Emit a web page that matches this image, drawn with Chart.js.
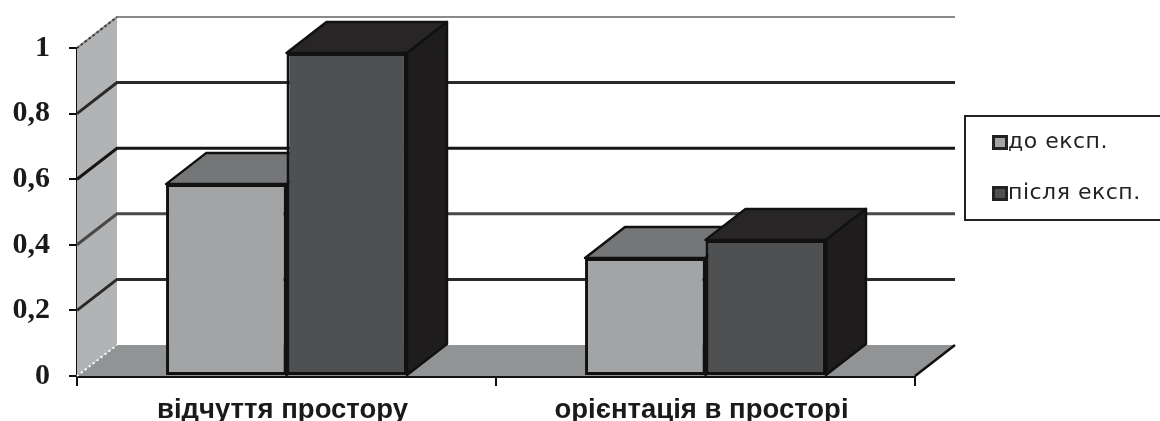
<!DOCTYPE html>
<html>
<head>
<meta charset="utf-8">
<script src="https://cdn.jsdelivr.net/npm/chart.js@4"></script>
<style>
html, body { margin: 0; padding: 0; background: #fff; }
#wrap { width: 1160px; height: 421px; }
</style>
</head>
<body>
<div id="wrap"><canvas id="chart"></canvas></div>
<script>
// 3D look of the old Excel column chart: walls, floor and bar depth are painted
// from the chart's own scales and bar elements.
const categories = ['відчуття простору', 'орієнтація в просторі'];
const seriesNames = ['до експ.', 'після експ.'];
const seriesBefore = [0.585, 0.36];
const seriesAfter = [0.985, 0.415];
const yTickLabels = ['0', '0,2', '0,4', '0,6', '0,8', '1'];

const DX = 40, DY = -31; // depth offset of the back plane
const gridColors = ['', '#2a2a2a', '#484848', '#151515', '#2a2a2a', '#8a8a8a']; // scan left them uneven
const faces = [
    { front: '#a2a4a6', top: '#757678', side: '#5c5d5f' },
    { front: '#4f5052', top: '#272526', side: '#1e1c1d' }
];

function poly(ctx, pts, fill, stroke, lw) {
    ctx.beginPath();
    pts.forEach((p, i) => i ? ctx.lineTo(p[0], p[1]) : ctx.moveTo(p[0], p[1]));
    ctx.closePath();
    if (fill) { ctx.fillStyle = fill; ctx.fill(); }
    if (stroke) { ctx.strokeStyle = stroke; ctx.lineWidth = lw; ctx.lineJoin = 'round'; ctx.stroke(); }
}

const walls = {
    id: 'walls',
    beforeDatasetsDraw(chart) {
        const { ctx, chartArea: a, scales: { y } } = chart;
        ctx.save();
        poly(ctx, [[a.left, a.top], [a.left + DX, a.top + DY], [a.left + DX, a.bottom + DY], [a.left, a.bottom]], '#b1b3b4');
        poly(ctx, [[a.left, a.bottom], [a.left + DX, a.bottom + DY], [a.right + DX, a.bottom + DY], [a.right, a.bottom]], '#929395');
        // right edge of the floor
        ctx.strokeStyle = '#111';
        ctx.lineWidth = 2.5;
        ctx.beginPath(); ctx.moveTo(a.right, a.bottom); ctx.lineTo(a.right + DX, a.bottom + DY); ctx.stroke();
        y.ticks.forEach((t, i) => {
            if (i === 0) return;
            const py = y.getPixelForValue(t.value);
            ctx.beginPath();
            ctx.moveTo(a.left, py);
            ctx.lineTo(a.left + DX, py + DY);
            ctx.lineTo(a.right + DX, py + DY);
            ctx.strokeStyle = gridColors[i];
            ctx.lineWidth = i === 5 ? 2 : 3;
            ctx.stroke();
        });
        // dotted edges of the left wall
        ctx.setLineDash([2, 3]);
        ctx.lineWidth = 2;
        ctx.strokeStyle = '#333';
        ctx.beginPath(); ctx.moveTo(a.left, a.top); ctx.lineTo(a.left + DX, a.top + DY); ctx.stroke();
        ctx.strokeStyle = '#fff';
        ctx.beginPath(); ctx.moveTo(a.left, a.bottom); ctx.lineTo(a.left + DX, a.bottom + DY); ctx.stroke();
        ctx.setLineDash([]);
        // top and side faces, the fronts go over them
        chart.data.datasets.forEach((ds, i) => {
            chart.getDatasetMeta(i).data.forEach(bar => {
                const l = bar.x - bar.width / 2, r = bar.x + bar.width / 2, t = bar.y, b = bar.base;
                poly(ctx, [[l, t], [l + DX, t + DY], [r + DX, t + DY], [r, t]], faces[i].top, '#111', 2.5);
                poly(ctx, [[r, t], [r + DX, t + DY], [r + DX, b + DY], [r, b]], faces[i].side, '#111', 2.5);
            });
        });
        ctx.restore();
    }
};

const legendBox = {
    id: 'legendBox',
    afterDraw(chart) {
        const { ctx } = chart;
        ctx.save();
        ctx.strokeStyle = '#222';
        ctx.lineWidth = 2;
        ctx.strokeRect(965, 116, 210, 104);
        ctx.font = '22px "DejaVu Sans"';
        ctx.textBaseline = 'middle';
        seriesNames.forEach((name, i) => {
            const yy = 142.5 + i * 51;
            ctx.fillStyle = faces[i].front;
            ctx.strokeStyle = '#222';
            ctx.lineWidth = 3;
            ctx.fillRect(993.5, yy - 6, 13, 12);
            ctx.strokeRect(993.5, yy - 6, 13, 12);
            ctx.fillStyle = '#222';
            ctx.letterSpacing = '0.5px';
            ctx.fillText(name, 1008, yy);
        });
        ctx.restore();
    }
};

new Chart(document.getElementById('chart'), {
    type: 'bar',
    data: {
        labels: categories,
        datasets: [
            { label: seriesNames[0], data: seriesBefore, backgroundColor: faces[0].front },
            { label: seriesNames[1], data: seriesAfter, backgroundColor: faces[1].front }
        ]
    },
    options: {
        responsive: true, maintainAspectRatio: false, animation: false,
        layout: { padding: { top: 48, right: 245 } },
        datasets: { bar: { categoryPercentage: 0.575, barPercentage: 1, borderColor: '#111', borderWidth: 3, borderSkipped: false } },
        plugins: { legend: { display: false }, tooltip: { enabled: false } },
        scales: {
            x: {
                afterFit(s) { s.height = 45; },
                border: { color: '#111', width: 3 },
                grid: { drawOnChartArea: false, color: '#111', lineWidth: 2, tickLength: 10 },
                ticks: { color: '#1a1a1a', padding: 8, labelOffset: -4, maxRotation: 0, autoSkip: false, font: { family: '"Liberation Sans"', weight: 'bold', size: 27.5 } }
            },
            y: {
                min: 0, max: 1,
                afterFit(s) { s.width = 77; },
                border: { color: '#111', width: 3 },
                grid: { drawOnChartArea: false, color: '#111', lineWidth: 2, tickLength: 8 },
                ticks: { stepSize: 0.2, color: '#1a1a1a', padding: 19, font: { family: '"Liberation Serif"', weight: 'bold', size: 30 }, callback: (v, i) => yTickLabels[i] }
            }
        }
    },
    plugins: [walls, legendBox]
});
</script>
</body>
</html>
